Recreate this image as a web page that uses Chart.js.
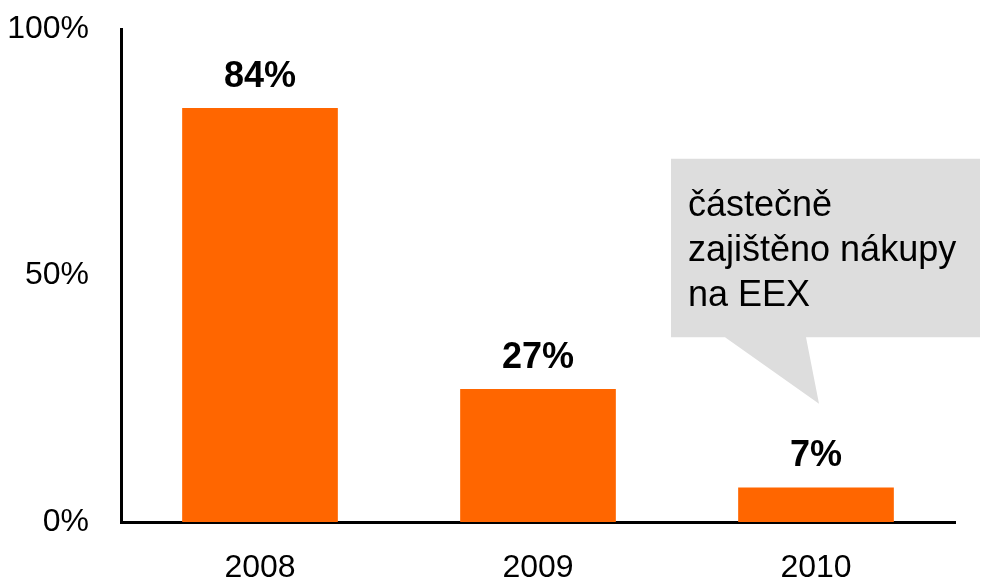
<!DOCTYPE html>
<html>
<head>
<meta charset="utf-8">
<script src="https://cdn.jsdelivr.net/npm/chart.js@4"></script>
<style>
    html, body { margin: 0; padding: 0; background: #ffffff; }
    #wrap { width: 981px; height: 582px; position: relative; }
</style>
</head>
<body>
<div id="wrap"><canvas id="chart"></canvas></div>
<script>
// Data
const years = ['2008', '2009', '2010'];
const shares = [0.84, 0.27, 0.07];
const yTicks = [0, 0.5, 1];
const calloutLines = ['částečně', 'zajištěno nákupy', 'na EEX'];

const FONT = '"Liberation Sans", Arial, sans-serif';

// Procent-etikett ovanför varje stapel
const valueLabels = {
    id: 'valueLabels',
    afterDatasetsDraw(chart) {
        const ctx = chart.ctx;
        const meta = chart.getDatasetMeta(0);
        ctx.save();
        ctx.font = 'bold 36px ' + FONT;
        ctx.fillStyle = '#000000';
        ctx.textAlign = 'center';
        ctx.textBaseline = 'alphabetic';
        meta.data.forEach((bar, i) => {
            ctx.fillText(Math.round(shares[i] * 100) + '%', bar.x, bar.y - 21);
        });
        ctx.restore();
    }
};

// Pratbubbla vid 2010
const callout = {
    id: 'callout',
    afterDraw(chart) {
        const ctx = chart.ctx;
        const y = chart.scales.y;
        const bar = chart.getDatasetMeta(0).data[2];
        const left = bar.x - 145;
        const right = bar.x + 164;
        const top = y.getPixelForValue(0.737);
        const bottom = y.getPixelForValue(0.375);
        const tipY = y.getPixelForValue(0.24);
        ctx.save();
        ctx.fillStyle = '#dddddd';
        ctx.beginPath();
        ctx.moveTo(left, top);
        ctx.lineTo(right, top);
        ctx.lineTo(right, bottom);
        ctx.lineTo(bar.x - 10, bottom);
        ctx.lineTo(bar.x + 3, tipY);
        ctx.lineTo(bar.x - 91, bottom);
        ctx.lineTo(left, bottom);
        ctx.closePath();
        ctx.fill();
        ctx.fillStyle = '#000000';
        ctx.font = '36px ' + FONT;
        ctx.textAlign = 'left';
        ctx.textBaseline = 'alphabetic';
        calloutLines.forEach((line, i) => {
            ctx.fillText(line, left + 17, top + 57 + i * 45);
        });
        ctx.restore();
    }
};

new Chart(document.getElementById('chart'), {
    type: 'bar',
    data: {
        labels: years,
        datasets: [{
            data: shares,
            backgroundColor: '#ff6600',
            borderWidth: 0,
            barPercentage: 0.56,
            categoryPercentage: 1
        }]
    },
    options: {
        responsive: true,
        maintainAspectRatio: false,
        animation: false,
        layout: { padding: { top: 29, right: 26, left: 0, bottom: 0 } },
        plugins: {
            legend: { display: false },
            tooltip: { enabled: false }
        },
        scales: {
            x: {
                grid: { display: false, drawTicks: false },
                border: { display: true, color: '#000000', width: 3 },
                ticks: {
                    color: '#000000',
                    font: { family: FONT, size: 32 },
                    padding: 27
                },
                afterFit(scale) {
                    scale.height = 60;
                    scale.paddingLeft = 0;
                    scale.paddingRight = 0;
                }
            },
            y: {
                min: 0,
                max: 1,
                grid: { display: false, drawTicks: false },
                border: { display: true, color: '#000000', width: 3 },
                afterBuildTicks(scale) {
                    scale.ticks = yTicks.map(v => ({ value: v }));
                },
                ticks: {
                    color: '#000000',
                    font: { family: FONT, size: 32 },
                    padding: 32,
                    callback: v => Math.round(v * 100) + '%'
                },
                afterFit(scale) {
                    scale.width = 121;
                    scale.paddingTop = 0;
                    scale.paddingBottom = 0;
                }
            }
        }
    },
    plugins: [valueLabels, callout]
});
</script>
</body>
</html>
